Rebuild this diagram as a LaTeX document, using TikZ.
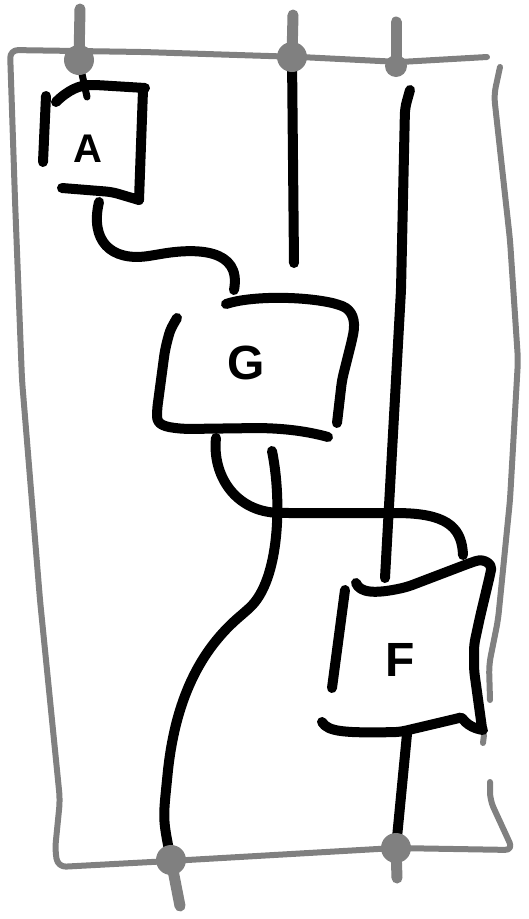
\documentclass[tikz,border=0pt]{standalone}
\usepackage{fontspec}
\setsansfont{Liberation Sans}
\usetikzlibrary{positioning}
\definecolor{framegrey}{HTML}{808080}
\tikzset{
  frame/.style={draw=framegrey, line width=6pt, line cap=round, line join=round, rounded corners=8pt},
  stub/.style={draw=framegrey, line width=11pt, line cap=round},
  wire/.style={draw=black, line width=10pt, line cap=round, line join=round, rounded corners=6pt},
  thinwire/.style={wire, line width=7pt},
  port/.style={circle, fill=framegrey, inner sep=0pt, minimum size=30pt},
  boxlabel/.style={font=\fontsize{48}{48}\selectfont\sffamily\bfseries, inner sep=0pt}
}

\begin{document}
\begin{tikzpicture}[x=1pt,y=-1pt]
\useasboundingbox (0,0) rectangle (529,919);

% ports on the frame
\coordinate (inA) at (79,60);
\coordinate (inB) at (292,57);
\coordinate (inC) at (396,66);
\coordinate (outA) at (171,860);
\coordinate (outB) at (396,848);
\coordinate (inA-tip) at (80,9);
\coordinate (inB-tip) at (293,15);
\coordinate (inC-tip) at (396,22);
\coordinate (outA-tip) at (180,906);
\coordinate (outB-tip) at (397,878);

% frame
\draw[frame] (487,57) -- (400,62) -- (300,57) -- (143,52) -- (10,50) -- (15,200) -- (22,380)
  -- (40,600) -- (60,800) -- (55,850) -- (58,867) -- (170,861) -- (395,848) -- (513,850)
  -- (490,800) -- (490,782);
\draw[frame] (500,67) -- (494,95) -- (510,240) -- (518,360) -- (510,500) -- (498,620)
  -- (489,665) -- (490,700);
\draw[frame] (484,735) -- (483,743);

% box A
\draw[wire] (46,96) -- (43,162);
\draw[wire] (56,102) .. controls (68,90) and (80,85) .. (96,85) -- (145,88);
\draw[wire] (143,90) -- (139,200);
\draw[wire] (62,188) -- (112,192) -- (139,200);
\node[boxlabel, font=\fontsize{40}{40}\selectfont\sffamily\bfseries] (labA) at (88,149) {A};
\coordinate (A-in) at (87,97);
\coordinate (A-out) at (99,202);

% box G
\draw[wire] (226,304) .. controls (250,296) and (300,296) .. (337,304)
  .. controls (352,310) and (356,320) .. (352,340) -- (342,380) -- (337,423);
\draw[wire] (177,318) .. controls (170,330) .. (165,350) -- (157,410)
  .. controls (157,425) and (165,427) .. (185,429) -- (260,428)
  .. controls (290,429) and (310,432) .. (328,437);
\node[boxlabel] (labG) at (246,363) {G};
\coordinate (G-in) at (234,290);
\coordinate (G-outL) at (216,438);
\coordinate (G-outR) at (272,451);

% box F
\draw[wire] (356,583) .. controls (360,593) and (375,594) .. (407,587) -- (470,563)
  .. controls (485,558) and (492,565) .. (490,575) -- (480,617) -- (474,645)
  -- (474,670) -- (482,728);
\draw[wire] (345,590) -- (332,688);
\draw[wire] (322,722) .. controls (328,732) and (345,733) .. (400,732) -- (455,719)
  .. controls (463,717) and (465,727) .. (483,730);
\node[boxlabel] (labF) at (400,660) {F};
\coordinate (F-inL) at (385,578);
\coordinate (F-inR) at (463,555);
\coordinate (F-out) at (407,734);

% wires
\coordinate (B-end) at (294,263);
\coordinate (C-top) at (410,90);
\draw[thinwire] (inA) -- (A-in);
\draw[wire] (A-out) .. controls (90,240) and (110,262) .. (155,255)
  .. controls (195,248) and (242,248) .. (G-in);
\draw[wire] (inB) -- (B-end);
\draw[wire] (G-outL) .. controls (212,475) and (235,512) .. (285,513) -- (400,513)
  .. controls (450,515) and (462,530) .. (F-inR);
\draw[wire] (C-top) -- (405,108) -- (401,290) -- (F-inL);
\draw[wire] (G-outR) .. controls (282,500) and (280,580) .. (245,612)
  .. controls (200,650) and (175,700) .. (167,780) .. controls (163,820) .. (outA);
\draw[wire] (F-out) -- (outB);

% stubs and dots
\draw[stub] (inA) -- (inA-tip);
\draw[stub] (inB) -- (inB-tip);
\draw[stub] (inC) -- (inC-tip);
\draw[stub] (outA) -- (outA-tip);
\draw[stub] (outB) -- (outB-tip);
\node[port] (inAdot) at (inA) {};
\node[port] (inBdot) at (inB) {};
\node[port, minimum size=22pt] (inCdot) at (inC) {};
\node[port] (outAdot) at (outA) {};
\node[port] (outBdot) at (outB) {};
\end{tikzpicture}
\end{document}
